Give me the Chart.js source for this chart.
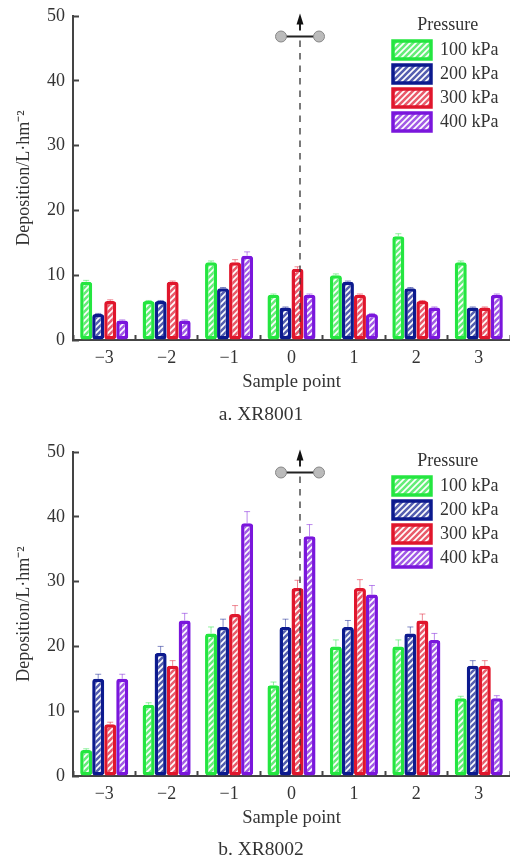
<!DOCTYPE html>
<html>
<head>
<meta charset="utf-8">
<style>
  body { margin: 0; background: #fff; }
  #hoja { position: relative; width: 510px; height: 861px; overflow: hidden; }
  canvas { position: absolute; left: 0; }
  .pie { position: absolute; left: 161px; width: 200px; text-align: center;
         font: 19.5px "Liberation Serif", serif; color: #333; }
</style>
<script src="https://cdn.jsdelivr.net/npm/chart.js@4/dist/chart.umd.js"></script>
</head>
<body>
<div id="hoja">
  <canvas id="graficoA" width="510" height="425" style="top:0"></canvas>
  <canvas id="graficoB" width="510" height="425" style="top:436px"></canvas>
  <div class="pie" style="top:403px">a. XR8001</div>
  <div class="pie" style="top:838px">b. XR8002</div>
</div>
<script>
// Datos
const categorias = ['−3', '−2', '−1', '0', '1', '2', '3'];
const presiones = ['100 kPa', '200 kPa', '300 kPa', '400 kPa'];
const ticksY = [0, 10, 20, 30, 40, 50];

// a. XR8001
const a100 = [9, 6, 12, 7, 10, 16, 12];
const a200 = [4, 6, 8, 5, 9, 8, 5];
const a300 = [6, 9, 12, 11, 7, 6, 5];
const a400 = [3, 3, 13, 7, 4, 5, 7];
const errA100 = [0.2, 0.1, 0.2, 0.1, 0.2, 0.4, 0.2];
const errA200 = [0.1, 0.1, 0.1, 0.1, 0.1, 0.1, 0.1];
const errA300 = [0.2, 0.1, 0.4, 0.3, 0.1, 0.1, 0.1];
const errA400 = [0.1, 0.1, 0.6, 0.1, 0.1, 0.1, 0.1];

// b. XR8002
const b100 = [4, 11, 22, 14, 20, 20, 12];
const b200 = [15, 19, 23, 23, 23, 22, 17];
const b300 = [8, 17, 25, 29, 29, 24, 17];
const b400 = [15, 24, 39, 37, 28, 21, 12];
const errB100 = [0.2, 0.3, 1, 0.5, 1, 1, 0.3];
const errB200 = [0.7, 1, 1.2, 1.2, 1, 1, 0.8];
const errB300 = [0.3, 0.8, 1.3, 1.2, 1.3, 1, 0.8];
const errB400 = [0.7, 1.1, 1.8, 1.8, 1.4, 1, 0.4];

const colores = ['#24e640', '#0c1a8e', '#e0162c', '#7a16dc'];
const colorEje = '#444';
const fuente = { family: '"Liberation Serif", serif', size: 18 };

// Relleno rayado de las barras
function rayado(color) {
    const c = document.createElement('canvas');
    c.width = 6;
    c.height = 6;
    const g = c.getContext('2d');
    g.fillStyle = '#fff';
    g.fillRect(0, 0, 6, 6);
    g.strokeStyle = color;
    g.globalAlpha = 0.7;
    g.lineWidth = 2.6;
    g.beginPath();
    g.moveTo(-1, 7); g.lineTo(7, -1);
    g.moveTo(-4, 4); g.lineTo(4, -4);
    g.moveTo(2, 10); g.lineTo(10, 2);
    g.stroke();
    return g.createPattern(c, 'repeat');
}

// Barras de error
const pluginError = {
    id: 'barrasError',
    afterDatasetsDraw(chart) {
        const ctx = chart.ctx;
        const escala = chart.scales.y;
        chart.data.datasets.forEach((ds, i) => {
            chart.getDatasetMeta(i).data.forEach((barra, j) => {
                const y0 = escala.getPixelForValue(ds.data[j]);
                const y1 = escala.getPixelForValue(ds.data[j] + ds.errores[j]);
                ctx.save();
                ctx.globalAlpha = 0.5;
                ctx.strokeStyle = ds.borderColor;
                ctx.lineWidth = 1;
                ctx.beginPath();
                ctx.moveTo(barra.x, y0);
                ctx.lineTo(barra.x, y1);
                ctx.moveTo(barra.x - 3, y1);
                ctx.lineTo(barra.x + 3, y1);
                ctx.stroke();
                ctx.restore();
            });
        });
    }
};

// Boquilla con flecha y linea central discontinua
const pluginBoquilla = {
    id: 'boquilla',
    afterDatasetsDraw(chart) {
        const ctx = chart.ctx;
        const x = 300, y = 36.5;
        ctx.save();
        ctx.strokeStyle = '#333';
        ctx.lineWidth = 1.3;
        ctx.setLineDash([6.5, 6]);
        ctx.beginPath();
        ctx.moveTo(x, y + 4);
        ctx.lineTo(x, chart.scales.y.bottom);
        ctx.stroke();
        ctx.setLineDash([]);
        ctx.strokeStyle = '#222';
        ctx.lineWidth = 2;
        ctx.beginPath();
        ctx.moveTo(x - 16, y);
        ctx.lineTo(x + 16, y);
        ctx.moveTo(x, y - 6);
        ctx.lineTo(x, y - 16);
        ctx.stroke();
        ctx.fillStyle = '#111';
        ctx.beginPath();
        ctx.moveTo(x, y - 23);
        ctx.lineTo(x + 3.5, y - 12);
        ctx.lineTo(x - 3.5, y - 12);
        ctx.fill();
        ctx.fillStyle = '#bbb';
        ctx.strokeStyle = '#888';
        ctx.lineWidth = 1;
        [x - 19, x + 19].forEach(cx => {
            ctx.beginPath();
            ctx.arc(cx, y, 5.5, 0, Math.PI * 2);
            ctx.fill();
            ctx.stroke();
        });
        ctx.restore();
    }
};

// Coloca la leyenda dentro del area del grafico
const pluginLeyenda = {
    id: 'leyendaFija',
    afterLayout(chart) {
        const l = chart.legend;
        const ancho = l.width;
        l.left = 387;
        l.right = 387 + ancho;
        l.top = 13;
        l.bottom = 140;
    }
};

function generarGrafico(id, series, errores) {
    new Chart(document.getElementById(id), {
        type: 'bar',
        data: {
            labels: categorias,
            datasets: series.map((valores, i) => ({
                label: presiones[i],
                data: valores,
                errores: errores[i],
                backgroundColor: rayado(colores[i]),
                borderColor: colores[i],
                borderWidth: 3.5,
                borderRadius: 3,
                borderSkipped: false,
                categoryPercentage: 0.77,
                barPercentage: 1
            }))
        },
        options: {
            responsive: false,
            animation: false,
            layout: { padding: { top: 16, left: 0, right: 0, bottom: 0 } },
            scales: {
                x: {
                    afterFit: s => { s.height = 85; },
                    border: { color: colorEje, width: 2 },
                    grid: { drawOnChartArea: false, tickLength: -5, tickColor: colorEje, tickWidth: 2 },
                    ticks: { color: '#333', font: fuente, padding: 12, maxRotation: 0 },
                    title: { display: true, text: 'Sample point', color: '#333', font: { family: fuente.family, size: 18.6 }, padding: { top: 0, bottom: 32 } }
                },
                y: {
                    min: 0,
                    max: 50,
                    afterFit: s => { s.width = 73; s.paddingTop = 0; s.paddingBottom = 0; },
                    afterBuildTicks: s => { s.ticks = ticksY.map(v => ({ value: v })); },
                    border: { color: colorEje, width: 2 },
                    grid: { drawOnChartArea: false, tickLength: -6, tickColor: colorEje, tickWidth: 2 },
                    ticks: { color: '#333', font: fuente, padding: 14 },
                    title: { display: true, text: 'Deposition/L·hm⁻²', color: '#333', font: fuente, padding: { top: 13, bottom: 0 } }
                }
            },
            plugins: {
                tooltip: { enabled: false },
                legend: {
                    position: 'chartArea',
                    onClick: null,
                    title: { display: true, text: 'Pressure', color: '#333', font: { family: fuente.family, size: 18, lineHeight: 1 }, padding: { top: 0, bottom: 1 } },
                    labels: { boxWidth: 38, boxHeight: 18, padding: 6, color: '#333', font: fuente }
                }
            }
        },
        plugins: [pluginError, pluginBoquilla, pluginLeyenda]
    });
}

generarGrafico('graficoA', [a100, a200, a300, a400], [errA100, errA200, errA300, errA400]);
generarGrafico('graficoB', [b100, b200, b300, b400], [errB100, errB200, errB300, errB400]);
</script>
</body>
</html>
